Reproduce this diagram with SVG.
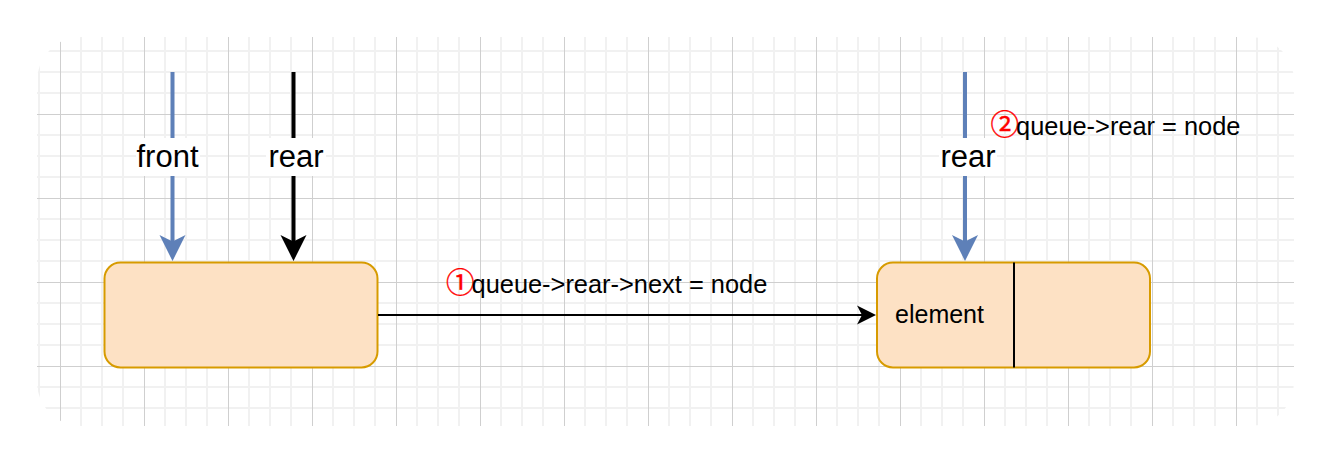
<svg xmlns="http://www.w3.org/2000/svg" width="1330" height="462" viewBox="0 0 1330 462">
<style>
.lbl{font-family:"Liberation Sans",Arial,sans-serif;fill:#000}
.big{font-size:31px}
.mid{font-size:25px}
.step{font-size:25.4px}
.circ{font-family:"Noto Sans CJK SC","DejaVu Sans",sans-serif;fill:#ff0000;font-size:28.5px;stroke:#ff0000;stroke-width:0.4}
.box{fill:#fde1c4;stroke:#d79b00;stroke-width:2}
.bg{fill:#ffffff}
</style>
<defs>
<pattern id="grid" patternUnits="userSpaceOnUse" x="60" y="30" width="84" height="84">
<g stroke="#f1f1f1" stroke-width="2" fill="none">
<path d="M21 0V84M42 0V84M63 0V84M0 21H84M0 42H84M0 63H84"/>
</g>
<g stroke="#cfcfcf" stroke-width="1" fill="none">
<path d="M0.5 0V84M0 0.5H84"/>
</g>
</pattern>
<clipPath id="gclip"><rect x="37" y="37" width="1257" height="389" rx="44" ry="44"/></clipPath>
</defs>
<rect width="1330" height="462" fill="#ffffff"/>
<rect x="37" y="37" width="1257" height="389" fill="url(#grid)" clip-path="url(#gclip)"/>

<g id="node-left">
<rect class="box" x="104.5" y="262.5" width="273" height="105" rx="16" ry="16"/>
</g>
<g id="node-right">
<rect class="box" x="877" y="262.5" width="273" height="105" rx="16" ry="16"/>
<line x1="1014" y1="262.5" x2="1014" y2="367.5" stroke="#000" stroke-width="2"/>
<text class="lbl mid" x="939.5" y="323" text-anchor="middle">element</text>
</g>

<g id="connectors">
<g id="edge-front">
<line x1="172.5" y1="72" x2="172.5" y2="242" stroke="#5e80b8" stroke-width="4"/>
<path d="M172.5 261 L159.5 235 L172.5 241.5 L185.5 235 Z" fill="#5e80b8"/>
<rect class="bg" x="136" y="138" width="64" height="38"/>
<text class="lbl big" x="167.5" y="166.7" text-anchor="middle">front</text>
</g>
<g id="edge-rear-left">
<line x1="293.5" y1="72" x2="293.5" y2="242" stroke="#000" stroke-width="4"/>
<path d="M293.5 261 L280.5 235 L293.5 241.5 L306.5 235 Z" fill="#000"/>
<rect class="bg" x="266" y="138" width="60" height="38"/>
<text class="lbl big" x="296" y="166.7" text-anchor="middle">rear</text>
</g>
<g id="edge-rear-right">
<line x1="965" y1="72" x2="965" y2="242" stroke="#5e80b8" stroke-width="4"/>
<path d="M965 261 L952 235 L965 241.5 L978 235 Z" fill="#5e80b8"/>
<rect class="bg" x="939" y="138" width="58" height="38"/>
<text class="lbl big" x="968" y="167.3" text-anchor="middle">rear</text>
</g>
<g id="edge-next">
<line x1="378" y1="315" x2="864" y2="315" stroke="#000" stroke-width="2"/>
<path d="M876 315 L857 305.5 L862 315 L857 324.5 Z" fill="#000"/>
</g>
</g>

<g id="label-step1">
<text class="lbl step" x="446" y="293"><tspan class="circ">①</tspan><tspan dx="-3">queue-&gt;rear-&gt;next = node</tspan></text>
</g>
<g id="label-step2">
<text class="lbl step" x="990.5" y="135"><tspan class="circ">②</tspan><tspan dx="-3">queue-&gt;rear = node</tspan></text>
</g>
</svg>
